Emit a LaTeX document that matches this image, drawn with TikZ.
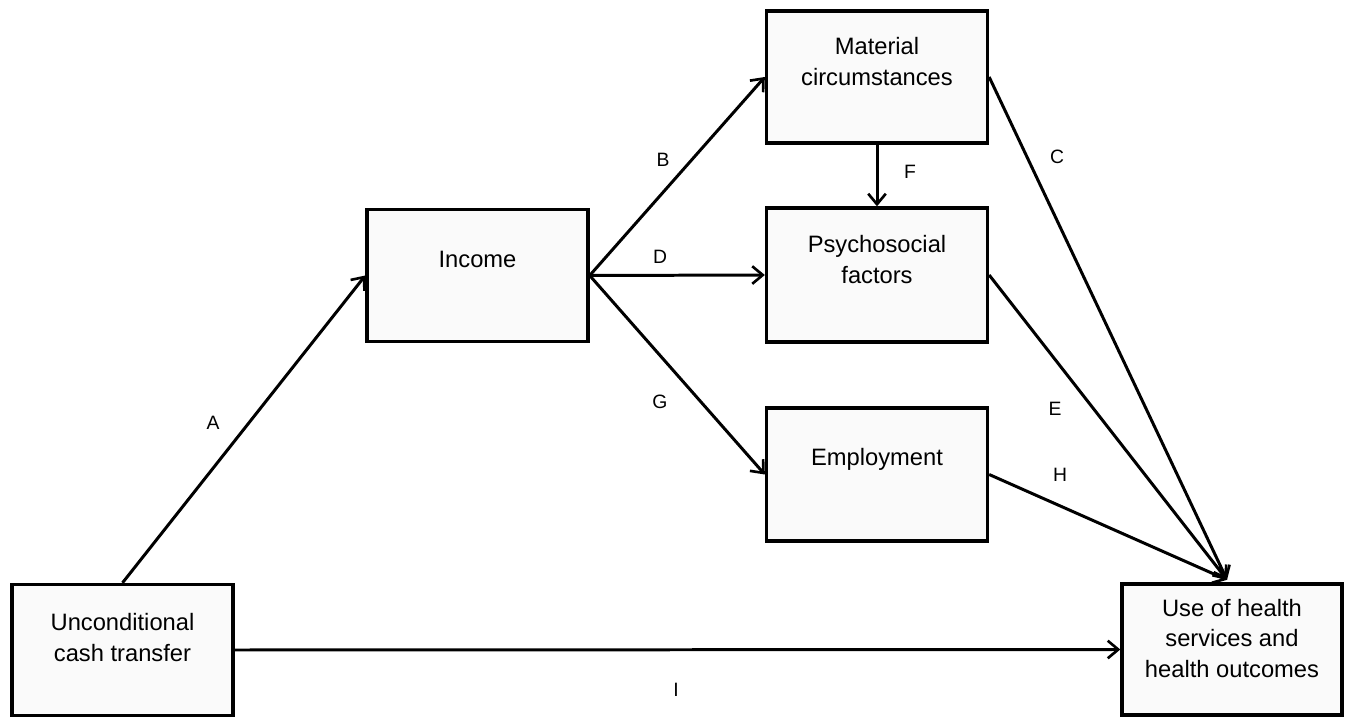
\documentclass[tikz,border=0pt]{standalone}
\usepackage{fontspec}
\setmainfont{Liberation Sans}
\usetikzlibrary{positioning,arrows.meta}
\tikzset{
  BoxNode/.style={rectangle, draw=black, fill=gray!4, line width=1.9pt, minimum width=4.42cm, minimum height=2.64cm},
  TextNode/.style={align=center, font=\fontsize{13.5}{17.5}\selectfont, inner sep=0pt},
  PathLabel/.style={font=\fontsize{11}{13}\selectfont, inner sep=1pt}
}

\begin{document}
\begin{tikzpicture}[>={Straight Barb[length=6pt,width=10pt,line width=1.5pt]}, line width=1.7pt]
    \useasboundingbox (0,0) rectangle (26.9,14.34);

    \node (cash) [BoxNode, minimum height=2.62cm] at (2.45,1.34) {};
    \node (income) [BoxNode] at (9.55,8.83) {};
    \node (material) [BoxNode] at (17.54,12.8) {};
    \node (psycho) [BoxNode, minimum height=2.68cm] at (17.54,8.84) {};
    \node (employ) [BoxNode, minimum height=2.66cm] at (17.54,4.85) {};
    \node (health) [BoxNode, minimum width=4.4cm, minimum height=2.62cm] at (24.64,1.35) {};

    \node (cashT) [TextNode] at ([yshift=-1.1cm]cash.north) {Unconditional\\cash transfer};
    \node (incomeT) [TextNode] at ([yshift=-1.04cm]income.north) {Income};
    \node (materialT) [TextNode] at ([yshift=-1.04cm]material.north) {Material\\circumstances};
    \node (psychoT) [TextNode] at ([yshift=-1.06cm]psycho.north) {Psychosocial\\factors};
    \node (employT) [TextNode] at ([yshift=-1.06cm]employ.north) {Employment};
    \node (healthT) [TextNode] at ([yshift=-1.12cm]health.north) {Use of health\\services and\\health outcomes};

    \coordinate (hub) at ([xshift=-0.1cm,yshift=0.05cm]health.north);

    \draw [->] (cash.north) -- (income.west);
    \draw [->] (income.east) -- (material.west);
    \draw [->] (income.east) -- (psycho.west);
    \draw [->] (income.east) -- (employ.west);
    \draw [->] (material.south) -- (psycho.north);
    \draw [->] (material.east) -- (hub);
    \draw [->] (psycho.east) -- (hub);
    \draw [->] (employ.east) -- (hub);
    \draw [->] (cash.east) -- (health.west);

    \node (labA) [PathLabel] at (4.26,5.88) {A};
    \node (labB) [PathLabel] at (13.26,11.14) {B};
    \node (labD) [PathLabel] at (13.2,9.2) {D};
    \node (labG) [PathLabel] at (13.2,6.3) {G};
    \node (labF) [PathLabel] at (18.2,10.9) {F};
    \node (labC) [PathLabel] at (21.14,11.2) {C};
    \node (labE) [PathLabel] at (21.1,6.16) {E};
    \node (labH) [PathLabel] at (21.2,4.84) {H};
    \node (labI) [PathLabel] at (13.52,0.54) {I};
\end{tikzpicture}
\end{document}
